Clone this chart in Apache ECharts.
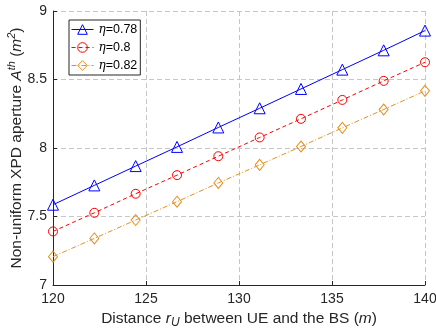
<!DOCTYPE html>
<html><head><meta charset="utf-8">
<script src="https://cdn.jsdelivr.net/npm/echarts@6/dist/echarts.min.js"></script>
<style>html,body{margin:0;padding:0;background:#fff}#c{width:436px;height:333px}</style>
</head><body><div id="c"></div>
<script>
const distances = [120, 122.222, 124.444, 126.667, 128.889, 131.111, 133.333, 135.556, 137.778, 140];
const eta078 = [7.586, 7.727, 7.868, 8.008, 8.150, 8.290, 8.431, 8.572, 8.713, 8.857];
const eta080 = [7.391, 7.527, 7.666, 7.802, 7.940, 8.077, 8.213, 8.351, 8.490, 8.626];
const eta082 = [7.207, 7.340, 7.474, 7.608, 7.745, 7.877, 8.011, 8.147, 8.281, 8.417];
const seriesNames = ['{i|η}=0.78', '{i|η}=0.8', '{i|η}=0.82'];
const xTicks = [120, 125, 130, 135, 140];
const yTicks = [7, 7.5, 8, 8.5, 9];

const font = 'Liberation Sans, Arial, Helvetica, sans-serif';
const toPairs = ys => distances.map((x, i) => [x, ys[i]]);
const chart = echarts.init(document.getElementById('c'), null, {renderer: 'canvas'});
const mk = (name, data, color, symbol, size, ltype) => ({
  name, type: 'line', data: toPairs(data), symbol, symbolSize: size,
  showAllSymbol: true,
  lineStyle: {color, width: 1, type: ltype},
  itemStyle: {color: 'rgba(255,255,255,0)', borderColor: color, borderWidth: 1},
  emphasis: {disabled: true}, animation: false
});
const base = {fontSize: 15.5, color: '#262626', fontFamily: font, lineHeight: 21, verticalAlign: 'middle'};
chart.setOption({
  backgroundColor: '#fff',
  animation: false,
  textStyle: {fontFamily: font},
  grid: {left: 53, right: 11, top: 11, bottom: 48, containLabel: false, outerBoundsMode: 'none'},
  legend: {
    orient: 'vertical', left: 69, top: 20,
    backgroundColor: '#fff', borderColor: '#262626', borderWidth: 1,
    padding: [3, 3, 3, 2], itemGap: 5, itemWidth: 22, itemHeight: 12, itemTextGap: 2,
    itemStyle: {borderWidth: 1},
    lineStyle: {width: 1},
    textStyle: {fontFamily: font, fontSize: 12.5, color: '#000',
      rich: {i: {fontStyle: 'italic', fontFamily: 'DejaVu Serif, serif', fontSize: 12, color: '#000'}}},
    data: seriesNames
  },
  xAxis: {
    type: 'value', min: 120, max: 140, interval: 5,
    name: '{n|Distance }{i|r}{sub|U}{n| between UE and the BS (}{i|m}{n|)}',
    nameLocation: 'middle', nameGap: 23, nameMoveOverlap: false,
    nameTextStyle: {rich: {
      n: base,
      i: Object.assign({}, base, {fontStyle: 'italic'}),
      sub: {fontSize: 12, color: '#262626', fontFamily: font, fontStyle: 'italic', lineHeight: 11, verticalAlign: 'bottom'}
    }},
    axisLine: {show: true, lineStyle: {color: '#262626', width: 1}},
    axisTick: {show: true, inside: true, length: 4, lineStyle: {color: '#262626'}},
    axisLabel: {fontSize: 14, color: '#262626', margin: 7, fontFamily: font},
    splitLine: {show: true, lineStyle: {color: '#c6c6c6', type: [5, 3], width: 1}}
  },
  yAxis: {
    type: 'value', min: 7, max: 9, interval: 0.5,
    name: '{n|Non-uniform XPD aperture }{i|A}{sup|th}{n| (}{i|m}{sup|2}{n|)}',
    nameLocation: 'middle', nameGap: 26, nameMoveOverlap: false,
    nameTextStyle: {rich: {
      n: base,
      i: Object.assign({}, base, {fontStyle: 'italic'}),
      sup: {fontSize: 11, color: '#262626', fontFamily: font, fontStyle: 'italic', lineHeight: 11, verticalAlign: 'top'}
    }},
    axisLine: {show: true, lineStyle: {color: '#262626', width: 1}},
    axisTick: {show: true, inside: true, length: 4, lineStyle: {color: '#262626'}},
    axisLabel: {fontSize: 14, color: '#262626', margin: 6, fontFamily: font},
    splitLine: {show: true, lineStyle: {color: '#c6c6c6', type: [5, 3], width: 1}}
  },
  series: [
    mk(seriesNames[0], eta078, '#0000ff', 'triangle', 11, 'solid'),
    mk(seriesNames[1], eta080, '#ff0000', 'circle', 9, [4, 3]),
    mk(seriesNames[2], eta082, '#e5901f', 'diamond', [9, 11], [5, 2, 1, 2])
  ]
});
</script></body></html>
